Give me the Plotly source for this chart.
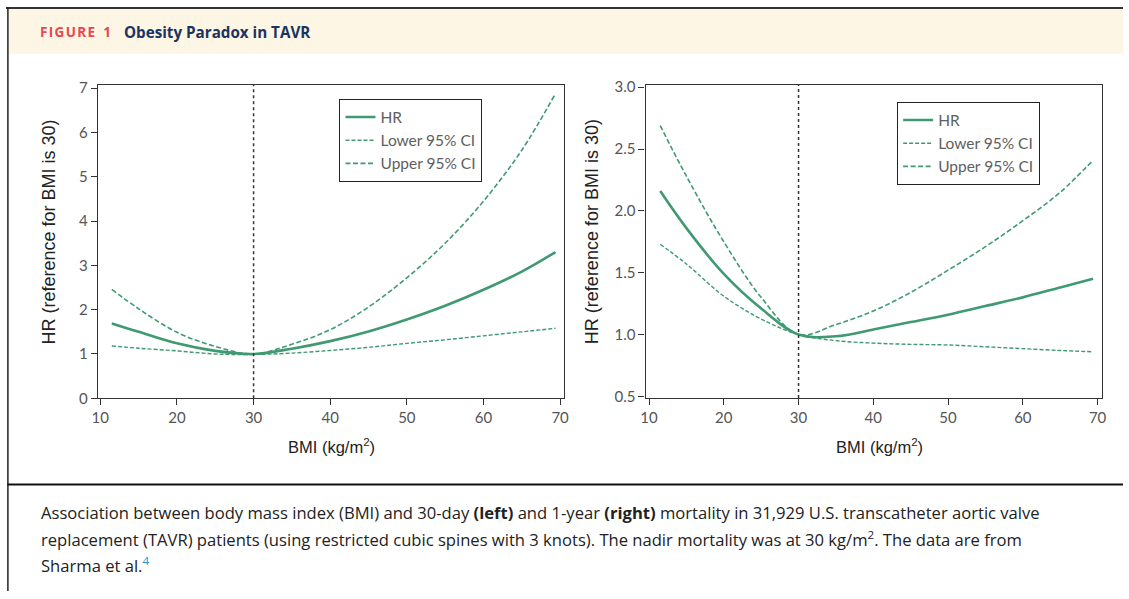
import plotly.graph_objects as go

W, H = 1129, 599

# ---------------- data ----------------
bmi = [11.5, 15, 20, 25, 30, 35, 40, 45, 50, 55, 60, 65, 69.4]

hr_30day = [1.69, 1.50, 1.24, 1.07, 1.00, 1.12, 1.29, 1.51, 1.78, 2.09, 2.45, 2.86, 3.30]
lo_30day = [1.18, 1.13, 1.07, 1.00, 0.99, 1.02, 1.08, 1.15, 1.24, 1.32, 1.41, 1.50, 1.58]
up_30day = [2.46, 2.02, 1.49, 1.17, 1.00, 1.22, 1.55, 2.06, 2.72, 3.50, 4.45, 5.60, 6.88]

hr_1yr = [2.16, 1.86, 1.49, 1.21, 1.00, 0.985, 1.04, 1.10, 1.16, 1.23, 1.30, 1.38, 1.45]
lo_1yr = [1.73, 1.57, 1.31, 1.125, 1.00, 0.95, 0.93, 0.92, 0.915, 0.90, 0.885, 0.87, 0.86]
up_1yr = [2.69, 2.28, 1.75, 1.30, 1.00, 1.08, 1.19, 1.34, 1.52, 1.71, 1.92, 2.15, 2.41]

x_ticks = [10, 20, 30, 40, 50, 60, 70]
y_ticks_left = [0, 1, 2, 3, 4, 5, 6, 7]
y_ticks_right = [0.5, 1.0, 1.5, 2.0, 2.5, 3.0]
y_ticktext_right = ["0.5", "1.0", "1.5", "2.0", "2.5", "3.0"]
nadir_bmi = 30

series_names = ["HR", "Lower 95% CI", "Upper 95% CI"]

GREEN = "#3f9a72"
TICKFONT = dict(family="Lato, 'Open Sans', sans-serif", size=15, color="#555555")
LEGFONT = dict(family="Lato, 'Open Sans', sans-serif", size=15.5, color="#606060")
TITLEFONT = dict(family="Liberation Sans, Arial, sans-serif", size=18, color="#222222")
XTITLEFONT = dict(family="Liberation Sans, Arial, sans-serif", size=16.5, color="#222222")

# layout helper: convert a pixel position (as seen in the photographed page) to paper coords
SX, OX = 0.99, 5.6
SY, OY = 0.968, 8.5


def px_x(p):
    return min(max((p - OX) / SX / W, 0), 1)


def px_y(p):
    return min(max(1 - (p - OY) / SY / H, 0), 1)


fig = go.Figure()


def add_panel(hr, lo, up, xa, ya, legend):
    fig.add_trace(go.Scatter(x=bmi, y=hr, mode="lines", name=series_names[0],
                             line=dict(color=GREEN, width=2.6, shape="spline"),
                             xaxis=xa, yaxis=ya, legend=legend))
    fig.add_trace(go.Scatter(x=bmi, y=lo, mode="lines", name=series_names[1],
                             line=dict(color=GREEN, width=1.4, dash="4px,2px", shape="spline"),
                             xaxis=xa, yaxis=ya, legend=legend))
    fig.add_trace(go.Scatter(x=bmi, y=up, mode="lines", name=series_names[2],
                             line=dict(color=GREEN, width=1.6, dash="5px,2.5px", shape="spline"),
                             xaxis=xa, yaxis=ya, legend=legend))


add_panel(hr_30day, lo_30day, up_30day, "x", "y", "legend")
add_panel(hr_1yr, lo_1yr, up_1yr, "x2", "y2", "legend2")

axis_common = dict(showline=True, linecolor="#333333", linewidth=1.3, mirror=True,
                   ticks="outside", ticklen=6, tickwidth=1.2, tickcolor="#333333",
                   showgrid=False, zeroline=False, tickfont=TICKFONT)

fig.update_layout(
    width=W, height=H,
    margin=dict(l=0, r=0, t=0, b=0),
    paper_bgcolor="white", plot_bgcolor="white",
    xaxis=dict(domain=[px_x(97.6), px_x(563.5)], range=[9.69, 70.45], anchor="y",
               tickvals=x_ticks, **axis_common),
    yaxis=dict(domain=[px_y(397), px_y(86)], range=[0, 7.07], anchor="x",
               tickvals=y_ticks_left, **axis_common),
    xaxis2=dict(domain=[px_x(645.6), px_x(1102)], range=[9.54, 70.55], anchor="y2",
                tickvals=x_ticks, **axis_common),
    yaxis2=dict(domain=[px_y(396.7), px_y(85.7)], range=[0.486, 3.02], anchor="x2",
                tickvals=y_ticks_right, ticktext=y_ticktext_right, **axis_common),
    legend=dict(x=px_x(339), y=px_y(100), xanchor="left", yanchor="top",
                bordercolor="#222222", borderwidth=1.3, bgcolor="white",
                font=LEGFONT, itemwidth=30, tracegroupgap=0),
    legend2=dict(x=px_x(897), y=px_y(103), xanchor="left", yanchor="top",
                 bordercolor="#222222", borderwidth=1.3, bgcolor="white",
                 font=LEGFONT, itemwidth=30, tracegroupgap=0),
    showlegend=True,
)

shapes = [
    # header band
    dict(type="rect", xref="paper", yref="paper", x0=px_x(8), x1=1, y0=px_y(55), y1=1,
         fillcolor="#fdf6e4", line=dict(width=0), layer="below"),
    # top border
    dict(type="line", xref="paper", yref="paper", x0=0, x1=1, y0=1 - 1 / H, y1=1 - 1 / H,
         line=dict(color="#333333", width=2)),
    # left border
    dict(type="line", xref="paper", yref="paper", x0=px_x(7.5), x1=px_x(7.5), y0=0, y1=1,
         line=dict(color="#222222", width=1.5)),
    # caption separator
    dict(type="line", xref="paper", yref="paper", x0=px_x(7), x1=1, y0=px_y(482.5), y1=px_y(482.5),
         line=dict(color="#111111", width=2)),
    # nadir reference lines
    dict(type="line", xref="x", yref="y domain", x0=nadir_bmi, x1=nadir_bmi, y0=0, y1=1,
         line=dict(color="#333333", width=1.5, dash="dot")),
    dict(type="line", xref="x2", yref="y2 domain", x0=nadir_bmi, x1=nadir_bmi, y0=0, y1=1,
         line=dict(color="#333333", width=1.5, dash="dot")),
]
fig.update_layout(shapes=shapes)

ann = []
ann.append(dict(xref="paper", yref="paper", x=px_x(38), y=px_y(33), xanchor="left", yanchor="middle",
                text="<b>F\u200aI\u200aG\u200aU\u200aR\u200aE\u2002\u200a1</b>", showarrow=False,
                font=dict(family="Open Sans, sans-serif", size=13.5, color="#e8474f")))
ann.append(dict(xref="paper", yref="paper", x=px_x(122), y=px_y(33), xanchor="left", yanchor="middle",
                text="<b>Obesity Paradox in TAVR</b>", showarrow=False,
                font=dict(family="Open Sans, sans-serif", size=15.2, color="#1b3361")))
# axis titles
for xc, yc in [(49, 232), (592, 232)]:
    ann.append(dict(xref="paper", yref="paper", x=px_x(xc), y=px_y(yc), xanchor="center", yanchor="middle",
                    text="HR (reference for BMI is 30)", textangle=-90, showarrow=False, font=TITLEFONT))
for xc in [331, 880]:
    ann.append(dict(xref="paper", yref="paper", x=px_x(xc), y=px_y(444), xanchor="center", yanchor="middle",
                    text="BMI (kg/m<sup>2</sup>)", showarrow=False, font=XTITLEFONT))
# caption
CAPFONT = dict(family="Open Sans, sans-serif", size=16.6, color="#222222")
cap_lines = [
    "Association between body mass index (BMI) and 30-day <b>(left)</b> and 1-year <b>(right)</b> mortality in 31,929 U.S. transcatheter aortic valve",
    "replacement (TAVR) patients (using restricted cubic spines with 3 knots). The nadir mortality was at 30 kg/m<sup>2</sup>. The data are from",
    "Sharma et al.<sup><span style='color:#2a8fc4'>4</span></sup>",
]
for i, line in enumerate(cap_lines):
    ann.append(dict(xref="paper", yref="paper", x=px_x(39), y=px_y(510 + 26.5 * i), xanchor="left",
                    yanchor="middle", text=line, showarrow=False, font=CAPFONT))
fig.update_layout(annotations=ann)

fig.write_html("out.html", config={"displayModeBar": False},
               post_script="document.body.style.margin='0';document.body.style.overflow='hidden';")
